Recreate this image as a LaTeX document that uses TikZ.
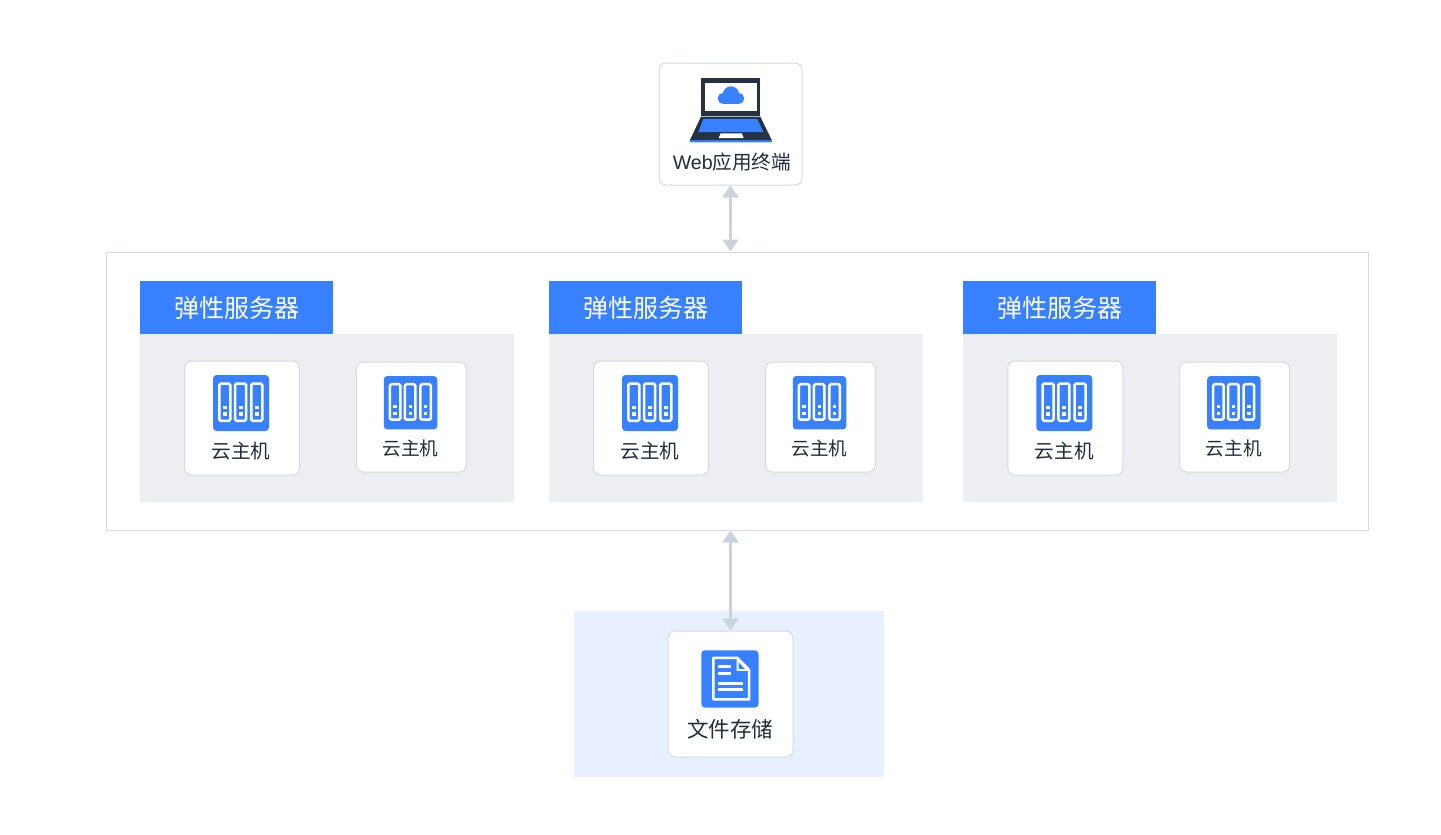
\documentclass[tikz,border=0pt]{standalone}
\usepackage{fontspec}
\setmainfont{Noto Sans CJK SC}
\newfontfamily\latinfont{Liberation Sans}
\usetikzlibrary{arrows.meta}
\definecolor{brand}{HTML}{3780FF}
\definecolor{panel}{HTML}{EDEEF2}
\definecolor{store}{HTML}{E9F0FD}
\definecolor{edge}{HTML}{D5D9E1}
\definecolor{link}{HTML}{CBD3DF}
\definecolor{ink}{HTML}{1F2D3D}
\definecolor{dark}{HTML}{243242}
\newcommand{\fsz}[1]{\fontsize{#1}{#1}\selectfont}
\newcommand{\rackicon}[3]{%
 \begin{scope}[shift={(#1,#2)},scale=#3]
  \fill[brand,rounded corners=3.5] (0,0) rectangle (56,56);
  \foreach \rx in {6.3,22.1,38.3}{
   \draw[white,line width=2.5,rounded corners=1.5] (\rx,8.6) rectangle ++(11,37.2);
   \fill[white] (\rx+3.8,30.6) rectangle ++(3.6,3.4);
   \fill[white] (\rx+3.8,37.4) rectangle ++(3.6,3.4);
  }
 \end{scope}}
\tikzset{
 x=1pt,y=-1pt,
 card/.style={draw=edge,line width=1,fill=white,rounded corners=7,inner sep=0,text=ink},
 panelbox/.style={fill=panel,inner sep=0},
 headbox/.style={fill=brand,inner sep=0,text=white,font=\fsz{25}},
 biglink/.style={draw=link,line width=2.6,{Triangle[width=16pt,length=12pt]}-{Triangle[width=16pt,length=12pt]}},
 caption/.style={inner sep=0,text=ink},
}
\begin{document}
\begin{tikzpicture}
\useasboundingbox (0,0) rectangle (1441,835);
\fill[white] (0,0) rectangle (1441,835);
% outer frame
\node[draw=edge,line width=1,fill=white,minimum width=1262pt,minimum height=278pt,inner sep=0] (frame) at (737,391) {};
% storage background
\node[fill=store,minimum width=310pt,minimum height=166pt,inner sep=0] (storebg) at (729,694) {};
% web terminal
\node[card,minimum width=143pt,minimum height=122pt] (web) at (730.5,124) {};
\node[caption,font=\fsz{19.6}] (weblabel) at (732,162.5) {{\latinfont Web}应用终端};
% laptop
\fill[dark] (701,78.3) rectangle (760.3,115.7);
\fill[white] (705,83.3) rectangle (756.7,110.7);
\fill[brand] (690,140) -- (771.7,140) -- (772.3,142.3) -- (689.6,142.3) -- cycle;
\fill[dark] (701,116.7) -- (760.3,116.7) -- (771.7,140) -- (690,140) -- cycle;
\fill[brand] (703.3,119) -- (757.3,119) -- (763.3,132) -- (698.3,132) -- cycle;
\fill[white] (720.7,133.3) -- (741.7,133.3) -- (743.7,138) -- (718.7,138) -- cycle;
\fill[brand] (731,94.4) circle (8.1);
\fill[brand] (723.2,98.4) circle (5.6);
\fill[brand] (738.6,98.4) circle (5.6);
\fill[brand] (723.2,96) rectangle (738.6,104);
% server groups
\foreach \gx/\gn in {140/a,549/b,963.3/c}{
 \node[panelbox,minimum width=374pt,minimum height=168pt] (panel\gn) at (\gx+187,418) {};
 \node[headbox,minimum width=193pt,minimum height=53.5pt] (head\gn) at (\gx+96.5,307.5) {弹性服务器};
 \node[card,minimum width=115pt,minimum height=114pt] (large\gn) at (\gx+102,418) {};
 \node[card,minimum width=110pt,minimum height=110pt] (small\gn) at (\gx+271.4,417) {};
 \rackicon{\gx+73}{375}{1}
 \rackicon{\gx+243.8}{376}{0.955}
 \node[caption,font=\fsz{19.6}] (largetext\gn) at (\gx+101,451.3) {云主机};
 \node[caption,font=\fsz{18.6}] (smalltext\gn) at (\gx+270.4,448.3) {云主机};
}
% file storage
\node[card,minimum width=125pt,minimum height=126pt] (file) at (730.5,694) {};
\node[caption,font=\fsz{21.5}] (filelabel) at (730,729.5) {文件存储};
\fill[brand,rounded corners=3.5] (701.3,650.3) rectangle (758.5,707.5);
\draw[white,line width=2.5,line join=round] (713.3,657.8) -- (737.3,657.8) -- (749.2,670) -- (749.2,699.3) -- (713.3,699.3) -- cycle;
\fill[white] (736.5,657.8) -- (749.2,670.8) -- (736.5,670.8) -- cycle;
\fill[brand] (738.7,662.6) -- (744.8,668.9) -- (738.7,668.9) -- cycle;
\fill[white] (718.3,665.2) rectangle (730.7,668.2);
\fill[white] (718.3,671.8) rectangle (730.7,674.8);
\fill[white] (718.3,681.8) rectangle (743.3,684.8);
\fill[white] (718.3,687.8) rectangle (743.3,690.8);
% connectors
\draw[biglink] (web.south) -- (web.south |- frame.north);
\draw[biglink] (file.north |- frame.south) -- (file.north);
\end{tikzpicture}
\end{document}
